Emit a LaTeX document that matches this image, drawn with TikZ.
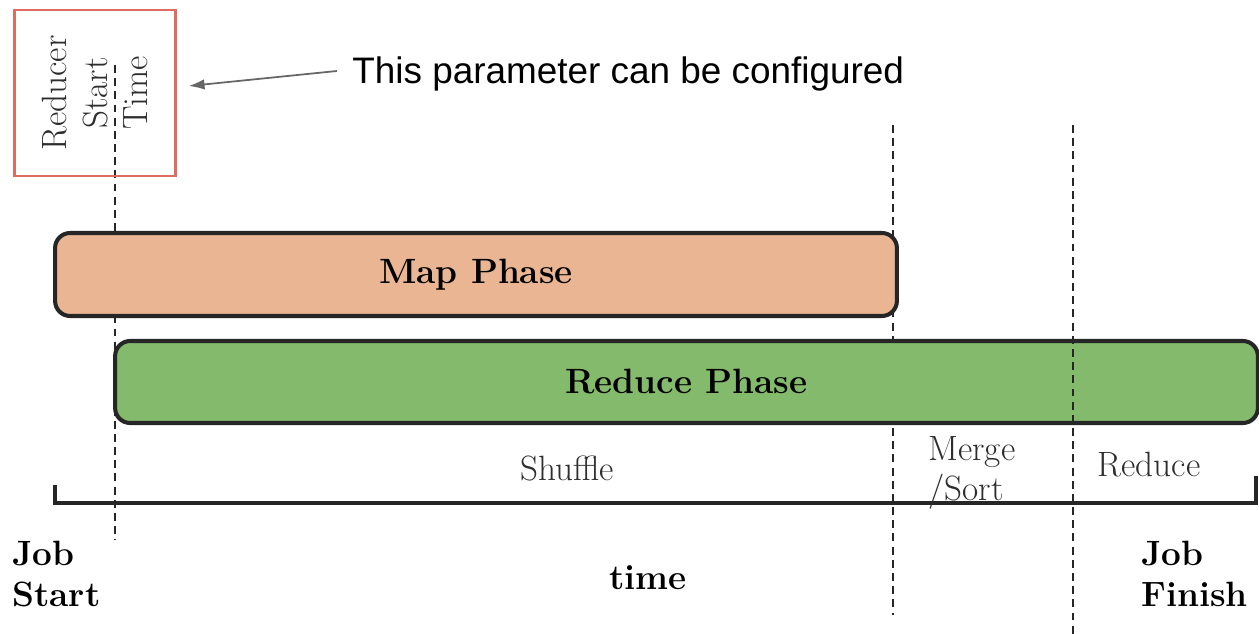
\documentclass[tikz,border=0pt]{standalone}
\usepackage{fontspec}
\newfontfamily\notefont{Liberation Sans}
\usepackage{tikz}
\usetikzlibrary{arrows.meta}
\definecolor{mapfill}{HTML}{E9B592}
\definecolor{reducefill}{HTML}{84BA6C}
\definecolor{boxred}{HTML}{E06B5E}
\tikzset{
	phase/.style={draw=black!85, line width=2.3pt, rounded corners=0.3cm, inner sep=0pt, font=\fontsize{20}{23}\selectfont\bfseries},
	lbl/.style={inner sep=0pt, text=black!82, font=\fontsize{20}{23}\selectfont},
	blbl/.style={inner sep=0pt, align=left, font=\fontsize{20}{23}\selectfont\bfseries},
	guide/.style={dash pattern=on 4.5pt off 3pt, line width=1.6pt, black!85}
}

\begin{document}
\begin{tikzpicture}[x=0.02cm, y=-0.02cm]
				\useasboundingbox (0,0) rectangle (1259,634);
				\def\ybase{503};
				\def\xstart{55};
				\def\xend{1256};
				\draw[guide] (115,65) -- (115,540);
				\draw[guide] (893,125) -- (893,615);
				\node[draw=boxred, line width=1.4pt, minimum width=3.22cm, minimum height=3.32cm, inner sep=0pt] (param) at (95,93) {};
				\node[lbl, rotate=90, align=center] (rst) at (param.center) {Reducer\\Start\\Time};
				\node[anchor=west, inner sep=0pt, font=\notefont\fontsize{21}{25}\selectfont] (note) at (352,74) {This parameter can be configured};
				\draw[-{Latex[length=9pt,width=6pt]}, black!60, line width=1pt] ([xshift=-0.3cm,yshift=0.06cm]note.west) -- ([xshift=0.24cm,yshift=0.14cm]param.east);
				\node[phase, fill=mapfill, minimum width=16.84cm, minimum height=1.66cm] (map) at (476,274.5) {Map Phase};
				\node[phase, fill=reducefill, minimum width=22.86cm, minimum height=1.64cm] (reduce) at (686.5,382) {Reduce Phase};
				\draw[guide] (1073,125) -- (1073,635);
				\draw[line width=2pt, black!85] (\xstart,485) -- (\xstart,\ybase) -- (\xend,\ybase) -- (\xend,476);
				\node[lbl] (shuffle) at (567,468) {Shuffle};
				\node[lbl, align=left, anchor=north west] (merge) at (928,436) {Merge\\/Sort};
				\node[lbl] (reducelbl) at (1149,465) {Reduce};
				\node[blbl, anchor=north west] (jobstart) at (12,541) {Job\\Start};
				\node[blbl] (time) at (648,578) {time};
				\node[blbl, anchor=north west] (jobfinish) at (1141,541) {Job\\Finish};
\end{tikzpicture}
\end{document}
